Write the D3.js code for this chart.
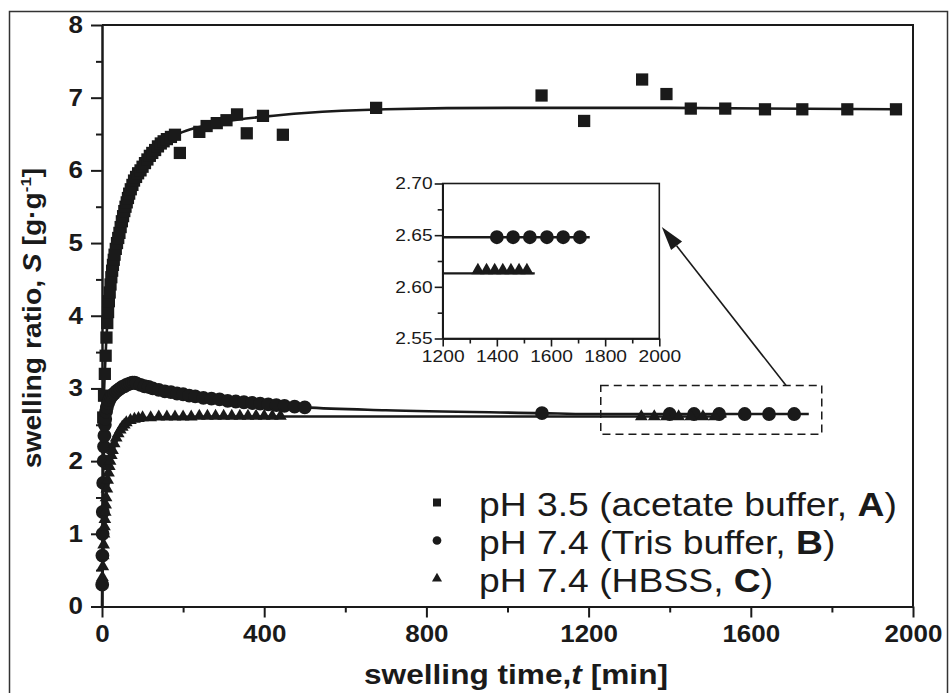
<!DOCTYPE html>
<html>
<head>
<meta charset="utf-8">
<script src="https://cdn.jsdelivr.net/npm/d3@7"></script>
<style>
  body { margin: 0; background: #fff; }
  svg text { font-family: Arial, "Liberation Sans", sans-serif; fill: #1a1a1a; }
  .wide { transform-box: fill-box; transform-origin: 50% 50%; transform: scaleX(1.13); }
</style>
</head>
<body>
<div id="chart"></div>
<script>
/*
 * Data (time in min, swelling ratio in g/g)
 */
const timeA = [3, 5, 7, 9, 11, 13, 15, 17, 19, 21, 23, 25, 27, 29, 31, 34, 37, 40, 43, 46, 49, 52, 55, 58, 61, 64, 67, 71, 75, 79, 84, 89, 95, 100, 106, 112, 118, 124, 131, 138, 145, 152, 160, 170, 180, 192, 240, 258, 283, 307, 333, 357, 397, 446, 676, 1084, 1189, 1332, 1392, 1452, 1537, 1635, 1727, 1838, 1958];
const ratioA = [2.6, 2.9, 3.2, 3.45, 3.7, 3.9, 4.05, 4.2, 4.32, 4.43, 4.53, 4.62, 4.7, 4.77, 4.84, 4.92, 5.0, 5.07, 5.14, 5.22, 5.3, 5.37, 5.44, 5.5, 5.56, 5.62, 5.68, 5.74, 5.8, 5.86, 5.91, 5.96, 6.0, 6.05, 6.1, 6.15, 6.2, 6.24, 6.28, 6.33, 6.37, 6.4, 6.43, 6.46, 6.49, 6.24, 6.53, 6.61, 6.65, 6.69, 6.77, 6.51, 6.75, 6.49, 6.86, 7.03, 6.68, 7.25, 7.05, 6.85, 6.85, 6.84, 6.84, 6.84, 6.84];

const timeB = [0.5, 1, 1.5, 2, 3, 4, 5, 6, 7, 8, 10, 12, 15, 18, 22, 26, 30, 35, 40, 45, 50, 55, 60, 65, 70, 75, 80, 85, 95, 105, 115, 125, 140, 155, 170, 185, 200, 215, 230, 250, 270, 290, 310, 330, 350, 370, 390, 410, 430, 450, 475, 500, 1085, 1400, 1460, 1522, 1585, 1645, 1707];
const ratioB = [0.3, 0.7, 1.0, 1.3, 1.7, 2.0, 2.2, 2.35, 2.5, 2.58, 2.68, 2.74, 2.8, 2.84, 2.88, 2.91, 2.93, 2.96, 2.98, 3.0, 3.02, 3.03, 3.05, 3.06, 3.07, 3.08, 3.08, 3.07, 3.05, 3.03, 3.02, 3.0, 2.98, 2.96, 2.95, 2.93, 2.92, 2.9, 2.89, 2.87, 2.86, 2.85, 2.83, 2.82, 2.81, 2.8, 2.79, 2.78, 2.77, 2.76, 2.75, 2.74, 2.66, 2.648, 2.648, 2.648, 2.648, 2.648, 2.648];

const timeC = [0.5, 1, 2, 3, 4, 5, 6, 7, 8, 9, 10, 12, 14, 16, 18, 20, 23, 26, 30, 35, 40, 45, 50, 55, 60, 70, 80, 90, 100, 120, 140, 160, 180, 200, 220, 240, 260, 280, 300, 320, 340, 360, 380, 400, 420, 440, 1330, 1362, 1392, 1422, 1452, 1482, 1511];
const ratioC = [0.3, 0.4, 0.55, 0.7, 0.85, 1.0, 1.1, 1.2, 1.3, 1.4, 1.5, 1.62, 1.74, 1.84, 1.93, 2.0, 2.08, 2.15, 2.24, 2.32, 2.38, 2.43, 2.47, 2.5, 2.53, 2.56, 2.58, 2.59, 2.6, 2.6, 2.61, 2.61, 2.61, 2.61, 2.61, 2.62, 2.62, 2.62, 2.62, 2.62, 2.62, 2.62, 2.62, 2.62, 2.62, 2.62, 2.613, 2.613, 2.613, 2.613, 2.613, 2.613, 2.613];

// fitted kinetic curves, sampled along the drawn lines
const fitTimeA = [0, 3, 6, 10, 15, 20, 30, 40, 50, 60, 75, 95, 120, 150, 200, 250, 300, 400, 500, 700, 1000, 1400, 1958];
const fitRatioA = [2.2, 2.65, 3.1, 3.6, 4.05, 4.38, 4.82, 5.08, 5.33, 5.55, 5.8, 6.01, 6.21, 6.38, 6.53, 6.61, 6.67, 6.74, 6.79, 6.84, 6.86, 6.86, 6.84];
const fitTimeB = [0, 2, 5, 10, 20, 40, 60, 80, 100, 150, 200, 300, 400, 500, 700, 1085, 1200, 1400, 1743];
const fitRatioB = [0, 1.35, 2.25, 2.66, 2.86, 2.97, 3.04, 3.08, 3.04, 2.97, 2.92, 2.84, 2.78, 2.74, 2.7, 2.66, 2.648, 2.648, 2.648];
const fitTimeC = [0, 3, 6, 10, 15, 20, 28, 40, 53, 70, 94, 130, 200, 400, 1200, 1540];
const fitRatioC = [0.3, 0.7, 1.1, 1.5, 1.8, 1.98, 2.15, 2.33, 2.45, 2.53, 2.58, 2.6, 2.61, 2.613, 2.613, 2.613];

// axes
const xTicks = [0, 400, 800, 1200, 1600, 2000];
const xMinorTicks = [200, 600, 1000, 1400, 1800];
const yTicks = [0, 1, 2, 3, 4, 5, 6, 7, 8];
const yMinorTicks = [0.5, 1.5, 2.5, 3.5, 4.5, 5.5, 6.5, 7.5];
const insetXTicks = [1200, 1400, 1600, 1800, 2000];
const insetXMinorTicks = [1300, 1500, 1700, 1900];
const insetYTicks = [2.55, 2.60, 2.65, 2.70];
const insetYMinorTicks = [2.575, 2.625, 2.675];

// legend
const legendLabels = ['pH 3.5 (acetate buffer, ', 'pH 7.4 (Tris buffer, ', 'pH 7.4 (HBSS, '];
const legendKeys = ['A', 'B', 'C'];

// region highlighted in the main plot and shown in the inset
const zoomBoxTime = [1230, 1775];
const zoomBoxRatio = [2.37, 3.04];


/*
 * Layout
 */
const width = 949;
const height = 693;
const ink = '#1a1a1a';

const plot = { left: 102, right: 913, top: 25, bottom: 606.5 };
const inset = { left: 442.7, right: 659.3, top: 183.5, bottom: 338.5 };

const svg = d3.select('#chart')
  .append('svg')
    .attr('width', width)
    .attr('height', height);

// outer frame of the figure
svg.append('rect')
    .attr('x', 9.5)
    .attr('y', 11.5)
    .attr('width', 938)
    .attr('height', 700)
    .attr('fill', 'none')
    .attr('stroke', '#333')
    .attr('stroke-width', 1.5);

const x = d3.scaleLinear().domain([0, 2000]).range([plot.left, plot.right]);
const y = d3.scaleLinear().domain([0, 8]).range([plot.bottom, plot.top]);

const zip = (ts, vs) => ts.map((t, i) => ({ t, v: vs[i] }));
const seriesA = zip(timeA, ratioA);
const seriesB = zip(timeB, ratioB);
const seriesC = zip(timeC, ratioC);
const fitA = zip(fitTimeA, fitRatioA);
const fitB = zip(fitTimeB, fitRatioB);
const fitC = zip(fitTimeC, fitRatioC);

const symbols = [
  { type: d3.symbolSquare, size: 150, legendSize: 64 },
  { type: d3.symbolCircle, size: 150, legendSize: 60 },
  { type: d3.symbolTriangle, size: 70, legendSize: 44 }
];

const plainFormat = d3.format('d');


/*
 * Main axes
 */
function styleAxis(g, fontSize, weight) {
  g.selectAll('path, line').attr('stroke', ink).attr('stroke-width', 2);
  g.selectAll('text')
      .attr('fill', ink)
      .style('font-size', fontSize + 'px')
      .style('font-weight', weight)
      .style('font-family', 'Arial, "Liberation Sans", sans-serif');
}

const xAxis = svg.append('g')
    .attr('transform', `translate(0, ${plot.bottom})`)
    .call(d3.axisBottom(x).tickValues(xTicks).tickFormat(plainFormat)
      .tickSize(11).tickSizeOuter(0).tickPadding(8));
styleAxis(xAxis, 23, 'bold');
xAxis.selectAll('text').classed('wide', true);

svg.append('g')
    .attr('transform', `translate(0, ${plot.bottom})`)
    .call(d3.axisBottom(x).tickValues(xMinorTicks).tickSize(6).tickSizeOuter(0).tickFormat(''))
    .call(g => styleAxis(g, 10, 'normal'));

const yAxis = svg.append('g')
    .attr('transform', `translate(${plot.left}, 0)`)
    .call(d3.axisLeft(y).tickValues(yTicks).tickFormat(plainFormat)
      .tickSize(11).tickSizeOuter(0).tickPadding(8));
styleAxis(yAxis, 23, 'bold');
yAxis.selectAll('text').classed('wide', true).style('transform-origin', '100% 50%');

svg.append('g')
    .attr('transform', `translate(${plot.left}, 0)`)
    .call(d3.axisLeft(y).tickValues(yMinorTicks).tickSize(6).tickSizeOuter(0).tickFormat(''))
    .call(g => styleAxis(g, 10, 'normal'));

// top and right borders
svg.append('path')
    .attr('d', `M${plot.left},${plot.top}H${plot.right}V${plot.bottom}`)
    .attr('fill', 'none')
    .attr('stroke', ink)
    .attr('stroke-width', 2);


/*
 * Fitted curves and data points
 */
const lineMain = d3.line()
    .x(d => x(d.t))
    .y(d => y(d.v))
    .curve(d3.curveMonotoneX);

[fitA, fitB, fitC].forEach(fit => {
  svg.append('path')
      .datum(fit)
      .attr('d', lineMain)
      .attr('fill', 'none')
      .attr('stroke', ink)
      .attr('stroke-width', 2.6);
});

[seriesA, seriesB, seriesC].forEach((series, i) => {
  svg.append('g')
    .selectAll('path')
    .data(series)
    .join('path')
      .attr('transform', d => `translate(${x(d.t)}, ${y(d.v)})`)
      .attr('d', d3.symbol().type(symbols[i].type).size(symbols[i].size))
      .attr('fill', ink);
});


/*
 * Axis titles
 */
const xTitle = svg.append('text')
    .attr('class', 'wide')
    .attr('x', 516)
    .attr('y', 684)
    .attr('text-anchor', 'middle')
    .style('font-size', '28px')
    .style('font-weight', 'bold');
xTitle.append('tspan').text('swelling time,');
xTitle.append('tspan').style('font-style', 'italic').text('t');
xTitle.append('tspan').text(' [min]');

const yTitle = svg.append('text')
    .attr('transform', 'translate(41, 318) rotate(-90) scale(1.13, 1)')
    .attr('text-anchor', 'middle')
    .style('font-size', '25px')
    .style('font-weight', 'bold');
yTitle.append('tspan').text('swelling ratio, ');
yTitle.append('tspan').style('font-style', 'italic').text('S');
yTitle.append('tspan').text(' [g\u00b7g');
yTitle.append('tspan').attr('dy', -10).style('font-size', '15px').text('-1');
yTitle.append('tspan').attr('dy', 10).text(']');


/*
 * Legend
 */
const legend = svg.append('g');
legendLabels.forEach((label, i) => {
  const baseline = 516 + i * 38;
  legend.append('path')
      .attr('transform', `translate(437, ${baseline - 13.5})`)
      .attr('d', d3.symbol().type(symbols[i].type).size(symbols[i].legendSize))
      .attr('fill', ink);
  const t = legend.append('text')
      .attr('class', 'wide')
      .style('transform-origin', '0% 50%')
      .attr('x', 479)
      .attr('y', baseline)
      .style('font-size', '33px');
  t.append('tspan').text(label);
  t.append('tspan').style('font-weight', 'bold').text(legendKeys[i]);
  t.append('tspan').text(')');
});


/*
 * Zoom box
 */
svg.append('rect')
    .attr('x', x(zoomBoxTime[0]))
    .attr('y', y(zoomBoxRatio[1]))
    .attr('width', x(zoomBoxTime[1]) - x(zoomBoxTime[0]))
    .attr('height', y(zoomBoxRatio[0]) - y(zoomBoxRatio[1]))
    .attr('fill', 'none')
    .attr('stroke', ink)
    .attr('stroke-width', 1.5)
    .attr('stroke-dasharray', '8,5');


/*
 * Inset
 */
const xi = d3.scaleLinear().domain([1200, 2000]).range([inset.left, inset.right]);
const yi = d3.scaleLinear().domain([2.55, 2.70]).range([inset.bottom, inset.top]);

const insetG = svg.append('g');

insetG.append('rect')
    .attr('x', inset.left)
    .attr('y', inset.top)
    .attr('width', inset.right - inset.left)
    .attr('height', inset.bottom - inset.top)
    .attr('fill', '#fff')
    .attr('stroke', ink)
    .attr('stroke-width', 1.6);

function styleInsetAxis(g) {
  g.selectAll('path, line').attr('stroke', ink).attr('stroke-width', 1.6);
  g.selectAll('text')
      .attr('fill', ink)
      .style('font-size', '17px')
      .style('font-family', 'Arial, "Liberation Sans", sans-serif');
}

const insetX = insetG.append('g')
    .attr('transform', `translate(0, ${inset.bottom})`)
    .call(d3.axisBottom(xi).tickValues(insetXTicks).tickFormat(plainFormat)
      .tickSize(8).tickSizeOuter(0).tickPadding(3));
styleInsetAxis(insetX);
insetX.selectAll('text').classed('wide', true);

insetG.append('g')
    .attr('transform', `translate(0, ${inset.bottom})`)
    .call(d3.axisBottom(xi).tickValues(insetXMinorTicks).tickSize(5).tickSizeOuter(0).tickFormat(''))
    .call(styleInsetAxis);

const insetY = insetG.append('g')
    .attr('transform', `translate(${inset.left}, 0)`)
    .call(d3.axisLeft(yi).tickValues(insetYTicks).tickSize(8).tickSizeOuter(0).tickPadding(2)
      .tickFormat(d3.format('.2f')));
styleInsetAxis(insetY);
insetY.selectAll('text').classed('wide', true).style('transform-origin', '100% 50%');

insetG.append('g')
    .attr('transform', `translate(${inset.left}, 0)`)
    .call(d3.axisLeft(yi).tickValues(insetYMinorTicks).tickSize(5).tickSizeOuter(0).tickFormat(''))
    .call(styleInsetAxis);

const lineInset = d3.line()
    .x(d => xi(d.t))
    .y(d => yi(d.v));

[fitB, fitC].forEach(fit => {
  insetG.append('path')
      .datum(fit.filter(d => d.t >= 1200))
      .attr('d', lineInset)
      .attr('fill', 'none')
      .attr('stroke', ink)
      .attr('stroke-width', 2.4);
});

[seriesB, seriesC].forEach((series, i) => {
  const sym = symbols[i + 1];
  insetG.append('g')
    .selectAll('path')
    .data(series.filter(d => d.t >= 1200))
    .join('path')
      .attr('transform', d => `translate(${xi(d.t)}, ${yi(d.v) - (i === 1 ? 3 : 0)})`)
      .attr('d', d3.symbol().type(sym.type).size(i === 0 ? 150 : 75))
      .attr('fill', ink);
});

// arrow from the dashed box to the inset
const arrowFrom = [x(1687), y(zoomBoxRatio[1])];
const arrowTo = [inset.right + 2.5, yi(2.658)];
const ang = Math.atan2(arrowTo[1] - arrowFrom[1], arrowTo[0] - arrowFrom[0]);
const headLen = 24;
const headHalf = 7;
const base = [arrowTo[0] - headLen * Math.cos(ang), arrowTo[1] - headLen * Math.sin(ang)];

svg.append('line')
    .attr('x1', arrowFrom[0])
    .attr('y1', arrowFrom[1])
    .attr('x2', base[0])
    .attr('y2', base[1])
    .attr('stroke', ink)
    .attr('stroke-width', 1.6);

svg.append('path')
    .attr('d', d3.line()([
      arrowTo,
      [base[0] + headHalf * Math.sin(ang), base[1] - headHalf * Math.cos(ang)],
      [base[0] - headHalf * Math.sin(ang), base[1] + headHalf * Math.cos(ang)]
    ]) + 'Z')
    .attr('fill', ink);
</script>
</body>
</html>
